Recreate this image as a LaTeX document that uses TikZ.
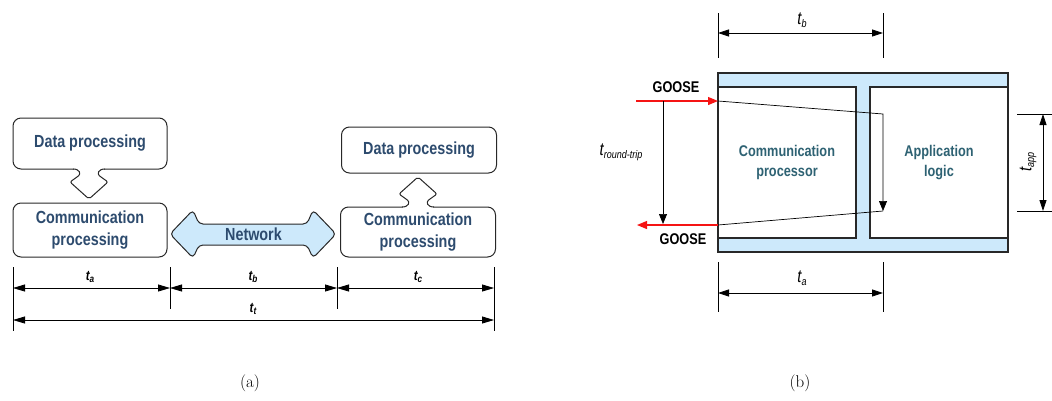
\documentclass[tikz,border=0pt]{standalone}
\usepackage{fontspec}
\newfontfamily\nar[FakeStretch=0.82]{Liberation Sans}
\usetikzlibrary{arrows.meta}
\definecolor{ablue}{RGB}{45,75,110}
\definecolor{bteal}{RGB}{46,98,115}
\definecolor{lblue}{RGB}{205,233,251}
\definecolor{edgec}{RGB}{40,40,40}
\definecolor{gred}{RGB}{245,20,20}
\newcommand{\tlab}[4]{{\nar#4\fontsize{#3}{#3}\selectfont t}{\nar#4\fontsize{#2}{#2}\selectfont\raisebox{-0.25em}{#1}}}
\begin{document}
\begin{tikzpicture}[x=1pt,y=-1pt,
  abox/.style={draw=edgec,line width=1pt,fill=white,rounded corners=8pt,inner sep=0pt,align=center,text=ablue,font=\nar\bfseries\fontsize{17.5}{21.5}\selectfont},
  callout/.style={draw=edgec,line width=1pt,fill=white,rounded corners=2pt},
  atext/.style={text=ablue,font=\nar\bfseries\fontsize{17.5}{21.5}\selectfont,inner sep=0pt},
  dimline/.style={line width=0.8pt,{Triangle[length=12pt,width=7pt]}-{Triangle[length=12pt,width=7pt]}},
  dimb/.style={line width=0.8pt,{Triangle[length=11pt,width=7pt]}-{Triangle[length=11pt,width=7pt]}},
  tickline/.style={line width=0.8pt},
  bbox/.style={draw=edgec,line width=1.2pt,fill=white,inner sep=0pt,align=center,text=bteal,font=\nar\bfseries\fontsize{15.5}{20}\selectfont},
  sig/.style={line width=0.7pt},
  redarr/.style={gred,line width=1.2pt,-{Triangle[length=10pt,width=8pt]}},
  goose/.style={font=\nar\bfseries\fontsize{15.5}{18}\selectfont,inner sep=0pt},
  lab/.style={inner sep=0pt}
]
\useasboundingbox (0,0) rectangle (1052,400);

% ---------------- (a) ----------------
\node[abox,minimum width=154pt,minimum height=51pt] (dpL) at (90,143.5) {Data processing};
\node[abox,minimum width=154pt,minimum height=54pt] (cpL) at (90,230) {Communication\\processing};
\node[abox,minimum width=155pt,minimum height=46pt] (dpR) at (419,150) {Data processing};
\node[abox,minimum width=155pt,minimum height=50pt] (cpR) at (418,232) {Communication\\processing};

% down callout from left data box
\fill[white] (74,167.3) rectangle (104,170.5);
\draw[callout] (73,169) .. controls (80,169) and (81,174) .. (77,177) -- (70,182) -- (89,199) -- (108,182) -- (101,177) .. controls (97,174) and (98,169) .. (105,169);
% up callout from right comm box
\fill[white] (403,205.5) rectangle (433,208.7);
\draw[callout] (402,207) .. controls (409,207) and (410,202) .. (406,199) -- (399,194) -- (418,177) -- (437,194) -- (430,199) .. controls (426,202) and (427,207) .. (434,207);

% network double arrow
\draw[draw=edgec,line width=1pt,fill=lblue,rounded corners=4pt]
  (170,234) -- (193,210) -- (199,224) -- (307,224) -- (313,210) -- (336,234)
  -- (313,258) -- (307,245) -- (199,245) -- (193,258) -- cycle;
\node[atext] (net) at (253.5,234) {Network};

% dimensions (a)
\coordinate (a0t) at (13,267); \coordinate (a0b) at (13,331);
\coordinate (a1t) at (170,267); \coordinate (a1b) at (170,309);
\coordinate (a2t) at (337,267); \coordinate (a2b) at (337,309);
\coordinate (a3t) at (494,267); \coordinate (a3b) at (494,331);
\draw[tickline] (a0t) -- (a0b);
\draw[tickline] (a1t) -- (a1b);
\draw[tickline] (a2t) -- (a2b);
\draw[tickline] (a3t) -- (a3b);
\coordinate (d0) at (13,288); \coordinate (d1) at (170,288);
\coordinate (d2) at (337,288); \coordinate (d3) at (494,288);
\coordinate (e0) at (13,320); \coordinate (e3) at (494,320);
\draw[dimline] (d0) -- (d1);
\draw[dimline] (d1) -- (d2);
\draw[dimline] (d2) -- (d3);
\draw[dimline] (e0) -- (e3);
\node[lab] (ta) at (90,277) {\tlab{a}{10}{14}{\bfseries\itshape}};
\node[lab] (tb) at (253,277) {\tlab{b}{10}{14}{\bfseries\itshape}};
\node[lab] (tc) at (418,277) {\tlab{c}{10}{14}{\bfseries\itshape}};
\node[lab] (tt) at (253,309) {\tlab{t}{10}{14}{\bfseries\itshape}};

\node[lab,font=\fontsize{17}{20}\selectfont] (capa) at (250,383) {(a)};

% ---------------- (b) ----------------
\draw[draw=edgec,line width=1.2pt,fill=lblue] (718,73) rectangle (1008,252);
\node[bbox,minimum width=138pt,minimum height=151pt] (cproc) at (787,162.5) {Communication\\processor};
\node[bbox,minimum width=138pt,minimum height=151pt] (alog) at (939,162.5) {Application\\logic};

\coordinate (s0) at (718,101);
\coordinate (s1) at (883,114);
\coordinate (s2) at (883,211);
\coordinate (s3) at (718,225);
\draw[sig,-{Triangle[length=10pt,width=8pt]}] (s0) -- (s1) -- (s2);
\draw[sig] (s2) -- (s3);

\coordinate (gin) at (636,101);
\coordinate (gout) at (637,225);
\draw[redarr] (gin) -- (s0);
\draw[redarr] (s3) -- (gout);
\node[goose] (g1) at (676,87) {GOOSE};
\node[goose] (g2) at (683,239) {GOOSE};

\coordinate (rt0) at (663,101);
\coordinate (rt1) at (663,224);
\draw[sig,-{Triangle[length=10pt,width=8pt]}] (rt0) -- (rt1);
\node[lab] (trt) at (621,152) {\tlab{round-trip}{11}{18}{\itshape}};

% t_b top
\coordinate (b0t) at (718,13); \coordinate (b0b) at (718,58);
\coordinate (b1t) at (883,13); \coordinate (b1b) at (883,58);
\draw[tickline] (b0t) -- (b0b);
\draw[tickline] (b1t) -- (b1b);
\coordinate (bd0) at (718,33); \coordinate (bd1) at (883,33);
\draw[dimb] (bd0) -- (bd1);
\node[lab] (tbb) at (802,20) {\tlab{b}{11}{18}{\itshape}};

% t_a bottom
\coordinate (c0t) at (718,262); \coordinate (c0b) at (718,312);
\coordinate (c1t) at (883,262); \coordinate (c1b) at (883,312);
\draw[tickline] (c0t) -- (c0b);
\draw[tickline] (c1t) -- (c1b);
\coordinate (cd0) at (718,293); \coordinate (cd1) at (883,293);
\draw[dimb] (cd0) -- (cd1);
\node[lab] (tab) at (802,278) {\tlab{a}{11}{18}{\itshape}};

% t_app right
\coordinate (p0l) at (1017,114); \coordinate (p0r) at (1052,114);
\coordinate (p1l) at (1017,211); \coordinate (p1r) at (1052,211);
\draw[tickline] (p0l) -- (p0r);
\draw[tickline] (p1l) -- (p1r);
\coordinate (pd0) at (1043,114); \coordinate (pd1) at (1043,211);
\draw[dimb] (pd0) -- (pd1);
\node[lab,rotate=90] (tapp) at (1028,162) {\tlab{app}{11}{18}{\itshape}};

\node[lab,font=\fontsize{17}{20}\selectfont] (capb) at (800,383) {(b)};
\end{tikzpicture}
\end{document}
